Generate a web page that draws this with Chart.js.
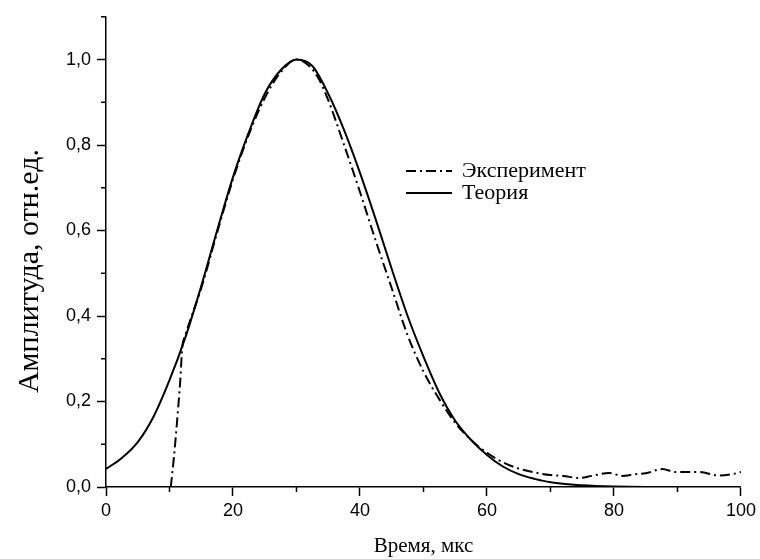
<!DOCTYPE html>
<html>
<head>
<meta charset="utf-8">
<script src="https://cdn.jsdelivr.net/npm/chart.js@4.4.0/dist/chart.umd.min.js"></script>
<style>
html, body { margin: 0; padding: 0; background: #fff; }
</style>
</head>
<body>
<canvas id="grafico" width="760" height="559"></canvas>
<script>
// Теория (сплошная линия)
const teoriaX = [0, 2.5, 5, 7.5, 10, 12.5, 15, 17.5, 20, 22.5, 25, 27.5, 30, 32.5, 35, 37.5, 40, 42.5, 45, 47.5, 50, 52.5, 55, 57.5, 60, 62.5, 65, 67.5, 70, 75, 80, 85, 90, 100];
const teoriaY = [0.042, 0.068, 0.105, 0.165, 0.25, 0.35, 0.47, 0.60, 0.725, 0.83, 0.92, 0.975, 1.0, 0.985, 0.92, 0.835, 0.735, 0.625, 0.51, 0.40, 0.305, 0.22, 0.155, 0.11, 0.075, 0.048, 0.03, 0.019, 0.011, 0.004, 0.001, 0, 0, 0];

// Эксперимент (штрих-пунктир)
const experX = [10.2, 10.7, 11.2, 11.7, 12.0, 12.5, 13.5, 15, 17.5, 20, 22.5, 25, 27.5, 30, 32, 33.5, 35, 37.5, 40, 42.5, 45, 47.5, 50, 52.5, 55, 57.5, 60, 62.5, 65, 67.5, 70, 72, 74.5, 76.5, 79.2, 81.3, 83.4, 85, 87.6, 89.7, 93.4, 96.5, 98.6, 100];
const experY = [0, 0.07, 0.155, 0.25, 0.325, 0.355, 0.40, 0.465, 0.595, 0.72, 0.825, 0.91, 0.97, 1.0, 0.985, 0.955, 0.905, 0.80, 0.69, 0.575, 0.465, 0.355, 0.27, 0.205, 0.15, 0.11, 0.08, 0.058, 0.043, 0.034, 0.028, 0.026, 0.021, 0.026, 0.033, 0.026, 0.03, 0.032, 0.042, 0.035, 0.035, 0.027, 0.03, 0.035];

// Подписи осей
const xTickLabels = [0, 20, 40, 60, 80, 100];
const yTickLabels = [0, 0.2, 0.4, 0.6, 0.8, 1.0];
const yTitle = 'Амплитуда, отн.ед.';

const toPoints = (xs, ys) => xs.map((x, i) => ({ x: x, y: ys[i] }));
const isMajorY = v => yTickLabels.some(t => Math.abs(t - v) < 1e-6);
const isMajorX = v => xTickLabels.includes(Math.round(v));

Chart.defaults.color = '#000';

// Мелкие деления, подпись оси Y и легенда
const extras = {
    id: 'extras',
    afterDraw(chart) {
        const c = chart.ctx;
        const sx = chart.scales.x, sy = chart.scales.y;
        c.save();
        c.strokeStyle = '#000';
        c.lineWidth = 1.5;
        sx.ticks.forEach(t => {
            if (isMajorX(t.value)) return;
            const px = sx.getPixelForValue(t.value);
            c.beginPath(); c.moveTo(px, sx.top); c.lineTo(px, sx.top + 5); c.stroke();
        });
        sy.ticks.forEach(t => {
            if (isMajorY(t.value)) return;
            const py = sy.getPixelForValue(t.value);
            c.beginPath(); c.moveTo(sy.right, py); c.lineTo(sy.right - 5, py); c.stroke();
        });

        // подпись оси Y
        c.save();
        c.translate(30, 271);
        c.rotate(-Math.PI / 2);
        c.font = '30px "Liberation Serif"';
        c.fillStyle = '#000';
        c.textAlign = 'center';
        c.textBaseline = 'middle';
        c.fillText(yTitle, 0, 0);
        c.restore();

        // легенда
        const lx = 406, ly = 171, step = 22;
        c.font = '22px "Liberation Serif"';
        c.fillStyle = '#000';
        c.textBaseline = 'middle';
        chart.data.datasets.forEach((ds, i) => {
            const y = ly + i * step;
            c.setLineDash(ds.borderDash || []);
            c.lineWidth = ds.borderWidth;
            c.beginPath(); c.moveTo(lx, y); c.lineTo(lx + 46, y); c.stroke();
            c.setLineDash([]);
            c.fillText(ds.label, lx + 56, y);
        });
        c.restore();
    }
};

new Chart(document.getElementById('grafico').getContext('2d'), {
    type: 'line',
    data: {
        datasets: [{
            label: 'Эксперимент',
            data: toPoints(experX, experY),
            borderColor: '#000',
            borderWidth: 2,
            borderDash: [10, 4, 2, 4],
            pointRadius: 0,
            cubicInterpolationMode: 'monotone',
            fill: false,
        }, {
            label: 'Теория',
            data: toPoints(teoriaX, teoriaY),
            borderColor: '#000',
            borderWidth: 2,
            pointRadius: 0,
            cubicInterpolationMode: 'monotone',
            fill: false,
        }],
    },
    options: {
        responsive: false,
        animation: false,
        layout: { padding: { top: 14, right: 18, left: 0, bottom: 0 } },
        plugins: { legend: { display: false }, tooltip: { enabled: false } },
        scales: {
            x: {
                type: 'linear',
                min: 0,
                max: 100,
                afterFit: s => { s.height = 72; },
                ticks: {
                    stepSize: 10,
                    padding: 4,
                    maxRotation: 0,
                    autoSkip: false,
                    font: { family: '"Liberation Sans"', size: 18 },
                    callback: v => isMajorX(v) ? String(v) : '',
                },
                grid: {
                    drawOnChartArea: false,
                    tickLength: 9,
                    tickWidth: 1.5,
                    tickColor: ctx => isMajorX(ctx.tick.value) ? '#000' : 'rgba(0,0,0,0)',
                },
                border: { color: '#000', width: 1.5 },
                title: {
                    display: true,
                    text: 'Время, мкс',
                    font: { family: '"Liberation Serif"', size: 21 },
                    padding: { top: 0, bottom: 0 },
                },
            },
            y: {
                min: 0,
                max: 1.1,
                afterFit: s => { s.width = 106; },
                ticks: {
                    stepSize: 0.1,
                    padding: 6,
                    autoSkip: false,
                    font: { family: '"Liberation Sans"', size: 18 },
                    callback: v => isMajorY(v) ? v.toFixed(1).replace('.', ',') : '',
                },
                grid: {
                    drawOnChartArea: false,
                    tickLength: 9,
                    tickWidth: 1.5,
                    tickColor: ctx => isMajorY(ctx.tick.value) ? '#000' : 'rgba(0,0,0,0)',
                },
                border: { color: '#000', width: 1.5 },
            },
        },
    },
    plugins: [extras],
});
</script>
</body>
</html>
